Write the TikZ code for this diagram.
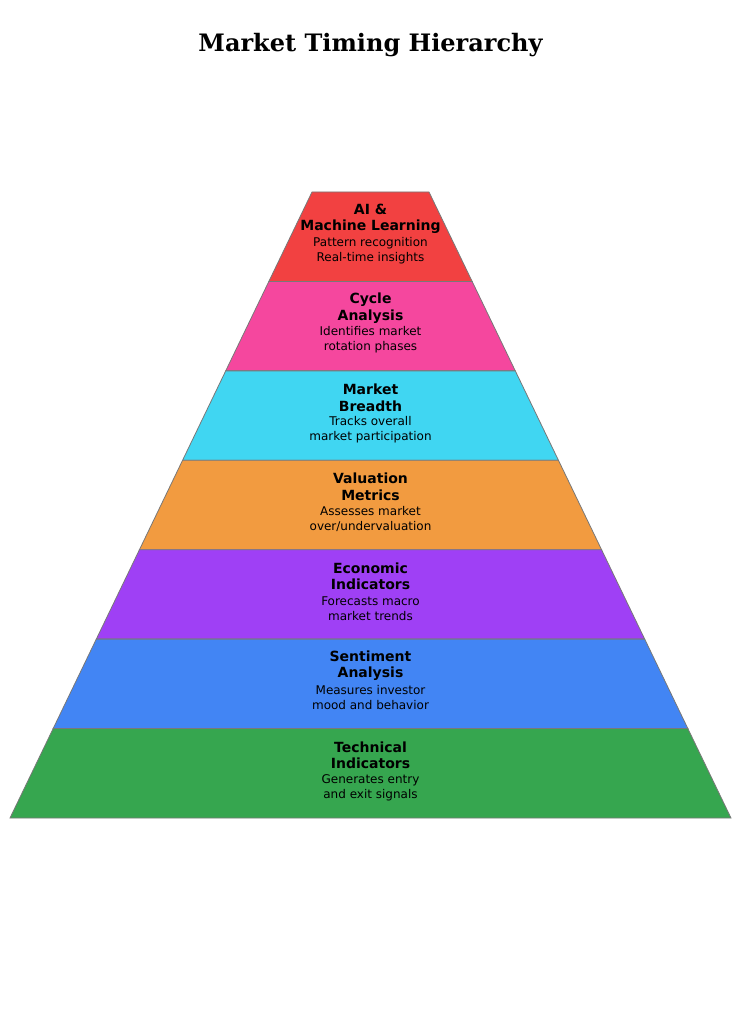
\documentclass[tikz,border=0pt]{standalone}
\usepackage{fontspec}
\setmainfont{DejaVu Sans}
\newfontfamily\titlefont{DejaVu Serif}
\definecolor{cA}{RGB}{242,65,65}
\definecolor{cB}{RGB}{245,71,158}
\definecolor{cC}{RGB}{64,214,242}
\definecolor{cD}{RGB}{242,155,64}
\definecolor{cE}{RGB}{159,64,245}
\definecolor{cF}{RGB}{66,133,244}
\definecolor{cG}{RGB}{54,166,79}
\begin{document}
\begin{tikzpicture}[x=1pt,y=1pt,
  layer/.style={draw={rgb,255:red,120;green,120;blue,120},line width=0.8pt},
  head/.style={inner sep=0,align=center,font=\fontsize{14}{16.5}\selectfont\bfseries},
  desc/.style={inner sep=0,align=center,font=\fontsize{12}{15}\selectfont}]
\useasboundingbox (0,0) rectangle (741,-1024);
\node[font=\titlefont\fontsize{24}{28}\selectfont\bfseries] (title) at (370.5,-45) {Market Timing Hierarchy};
\foreach \i/\c/\h/\d in {
 0/cA/{AI \&\\Machine Learning}/{Pattern recognition\\Real-time insights},
 1/cB/{Cycle\\Analysis}/{Identifies market\\rotation phases},
 2/cC/{Market\\Breadth}/{Tracks overall\\market participation},
 3/cD/{Valuation\\Metrics}/{Assesses market\\over/undervaluation},
 4/cE/{Economic\\Indicators}/{Forecasts macro\\market trends},
 5/cF/{Sentiment\\Analysis}/{Measures investor\\mood and behavior},
 6/cG/{Technical\\Indicators}/{Generates entry\\and exit signals}}{
  \pgfmathsetmacro\ya{192+\i*626/7}
  \pgfmathsetmacro\yb{192+(\i+1)*626/7}
  \pgfmathsetmacro\wa{58.5+\i*302/7}
  \pgfmathsetmacro\wb{58.5+(\i+1)*302/7}
  \pgfmathsetmacro\ym{(\ya+\yb)/2}
  \path[layer,fill=\c] (370.5-\wa,-\ya) -- (370.5+\wa,-\ya) -- (370.5+\wb,-\yb) -- (370.5-\wb,-\yb) -- cycle;
  \node[head] (h\i) at (370.5,-\ym+18) {\h};
  \node[desc] (d\i) at (370.5,-\ym-14) {\d};
}
\end{tikzpicture}
\end{document}
